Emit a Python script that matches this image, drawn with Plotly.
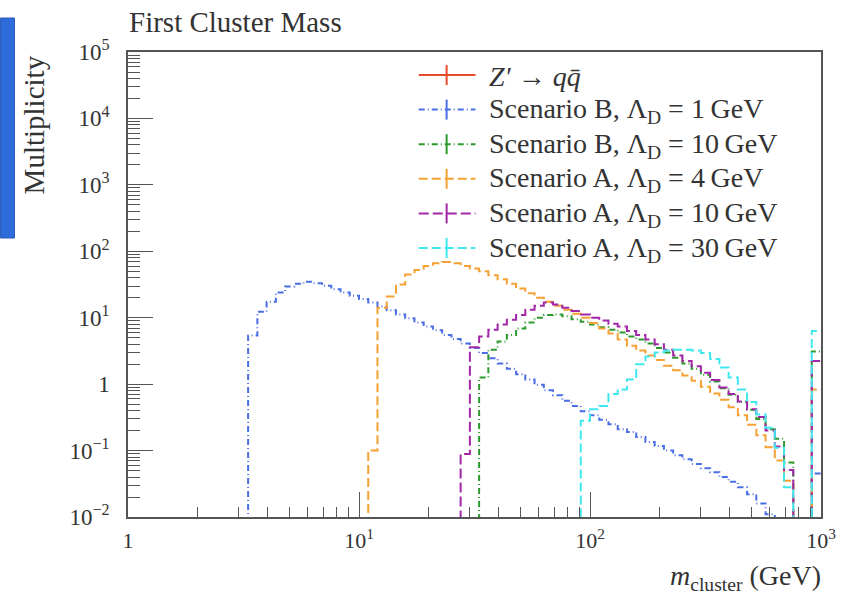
import numpy as np
import plotly.graph_objects as go

# ---------------- data ----------------
n_bins = 75                      # log-spaced bins from 1 to 1000 GeV
bin_edges = np.logspace(0, 3, n_bins + 1)

zprime = []   # Z' -> q qbar : no visible entries in the plotted range

scen_b_1gev = [0] * 13 + [
    5.4, 12.3, 17.4, 24.0, 29.5, 32.4, 34.7, 33.1, 30.2, 26.9,
    24.0, 21.4, 19.1, 17.0, 14.8, 12.9, 11.2, 9.8, 8.5, 7.4,
    6.5, 5.5, 4.8, 4.1, 3.5, 2.95, 2.45, 2.04, 1.70, 1.41,
    1.17, 0.98, 0.81, 0.68, 0.56, 0.47, 0.39, 0.34, 0.29, 0.25,
    0.21, 0.19, 0.16, 0.135, 0.117, 0.10, 0.085, 0.074, 0.063, 0.054,
    0.047, 0.040, 0.034, 0.028, 0.022, 0.016, 0.011] + [0] * 4 + [0.045]

scen_b_10gev = [0] * 38 + [
    1.26, 3.3, 4.4, 5.5, 6.9, 8.5, 10.0, 11.0, 11.2, 10.5,
    9.5, 8.7, 7.9, 7.2, 6.6, 6.0, 5.2, 4.7, 4.1, 3.5,
    3.0, 2.5, 2.04, 1.70, 1.38, 1.10, 0.87, 0.69, 0.54, 0.41,
    0.30, 0.21, 0.15, 0.066] + [0] * 2 + [3.1]

scen_a_4gev = [0] * 26 + [
    0.10, 14.1, 20.9, 31.6, 44.7, 52.5, 60.3, 66.1, 69.2, 66.1,
    60.3, 55.0, 50.1, 43.7, 38.0, 32.4, 27.5, 23.4, 20.0, 17.4,
    15.1, 13.2, 11.5, 10.0, 8.3, 6.9, 5.8, 4.7, 3.8, 3.2,
    2.7, 2.3, 1.9, 1.62, 1.35, 1.12, 0.91, 0.72, 0.58, 0.45,
    0.34, 0.245, 0.17, 0.112, 0.071, 0.035] + [0] * 2 + [0.83]

scen_a_10gev = [0] * 36 + [
    0.089, 3.6, 5.2, 6.6, 7.9, 9.3, 11.0, 13.2, 15.1, 17.0,
    15.8, 14.1, 12.6, 11.2, 10.0, 9.1, 8.1, 7.4, 6.3, 5.5,
    4.7, 4.0, 3.3, 2.7, 2.24, 1.86, 1.48, 1.15, 0.89, 0.71,
    0.55, 0.42, 0.32, 0.20, 0.115, 0.051] + [0] * 2 + [2.24]

scen_a_30gev = [0] * 49 + [
    0.28, 0.42, 0.47, 0.71, 0.83, 1.17, 2.0, 2.6, 3.0, 3.2,
    3.3, 3.3, 3.2, 2.95, 2.4, 1.78, 1.26, 0.83, 0.54, 0.35,
    0.22, 0.11, 0.028] + [0] * 2 + [6.3]

for s in (scen_b_1gev, scen_b_10gev, scen_a_4gev, scen_a_10gev, scen_a_30gev):
    assert len(s) == n_bins

legend_labels = [
    "<i>Z′</i> → <i>q</i><i>q̄</i>",
    "Scenario B, Λ<sub>D</sub> = 1\u2009GeV",
    "Scenario B, Λ<sub>D</sub> = 10\u2009GeV",
    "Scenario A, Λ<sub>D</sub> = 4\u2009GeV",
    "Scenario A, Λ<sub>D</sub> = 10\u2009GeV",
    "Scenario A, Λ<sub>D</sub> = 30\u2009GeV",
]
series_list = [zprime, scen_b_1gev, scen_b_10gev, scen_a_4gev, scen_a_10gev, scen_a_30gev]
colors = ["#ea4a2c", "#4a6ee6", "#2e9a2e", "#f5a133", "#a127a8", "#3ee8ee"]
dashes = ["solid", "6px,3px,1px,3px", "6px,3px,1px,3px", "9px,4px", "10px,4px", "9px,4px"]

y_tickvals = [1e-2, 1e-1, 1, 1e1, 1e2, 1e3, 1e4, 1e5]
y_ticktext = ["10<sup>−2</sup>", "10<sup>−1</sup>", "1", "10<sup>1</sup>",
              "10<sup>2</sup>", "10<sup>3</sup>", "10<sup>4</sup>", "10<sup>5</sup>"]
x_tickvals = [1, 10, 100, 1000]
x_ticktext = ["1", "10<sup>1</sup>", "10<sup>2</sup>", "10<sup>3</sup>"]

# ---------------- layout geometry ----------------
W, H = 848, 596
L, R, T, B = 128, 824, 52, 517


def px2x(px):
    return (px - L) / (R - L)


def py2y(py):
    return (B - py) / (B - T)


FONT = "Liberation Serif"
TXT = "#333333"
AX = "#555555"

fig = go.Figure()
floor = 1e-4
for name, vals, col, dsh in zip(legend_labels, series_list, colors, dashes):
    if len(vals) == 0:
        fig.add_trace(go.Scatter(x=[], y=[], name=name, mode="lines",
                                 line=dict(color=col, width=2), showlegend=False))
        continue
    yv = [v if v > 0 else floor for v in vals]
    yv = yv + [yv[-1]]
    fig.add_trace(go.Scatter(
        x=list(bin_edges), y=yv, name=name, mode="lines",
        line=dict(color=col, width=2, dash=dsh, shape="hv"),
        showlegend=False, hoverinfo="skip"))

minor_x = [m * 10 ** k for k in range(3) for m in range(2, 10)]
minor_y = [m * 10.0 ** k for k in range(-2, 5) for m in range(2, 10)]

fig.update_xaxes(
    type="log", range=[0, 3], showgrid=False, zeroline=False,
    showline=True, linecolor=AX, linewidth=1.5, mirror=True,
    ticks="inside", ticklen=25, tickwidth=1, tickcolor=AX,
    tickmode="array", tickvals=x_tickvals, ticktext=x_ticktext,
    tickfont=dict(family=FONT, size=22, color=TXT), ticklabelstandoff=3,
    minor=dict(ticks="inside", ticklen=10, tickwidth=1, tickcolor=AX,
               tickmode="array", tickvals=minor_x, showgrid=False),
)
fig.update_yaxes(
    type="log", range=[-2, 5], showgrid=False, zeroline=False,
    showline=True, linecolor=AX, linewidth=1.5, mirror=True,
    ticks="inside", ticklen=25, tickwidth=1, tickcolor=AX,
    tickmode="array", tickvals=y_tickvals, ticktext=y_ticktext,
    tickfont=dict(family=FONT, size=23, color=TXT), ticklabelstandoff=12,
    minor=dict(ticks="inside", ticklen=12, tickwidth=1, tickcolor=AX,
               tickmode="array", tickvals=minor_y, showgrid=False),
)

shapes = []
annotations = []

# decorative blue box at the far left
shapes.append(dict(type="rect", xref="paper", yref="paper",
                   x0=px2x(0), x1=px2x(14), y0=py2y(238), y1=py2y(18),
                   fillcolor="#2e6cdc", line=dict(color="#2a5bb8", width=1), layer="above"))

# hand-drawn legend (ROOT style)
leg_y0, leg_dy = 75, 34.6
for i, (lab, col, dsh) in enumerate(zip(legend_labels, colors, dashes)):
    yy = leg_y0 + i * leg_dy
    shapes.append(dict(type="line", xref="paper", yref="paper",
                       x0=px2x(420), x1=px2x(477), y0=py2y(yy), y1=py2y(yy),
                       line=dict(color=col, width=2, dash=dsh)))
    shapes.append(dict(type="line", xref="paper", yref="paper",
                       x0=px2x(448), x1=px2x(448), y0=py2y(yy - 10), y1=py2y(yy + 10),
                       line=dict(color=col, width=2)))
    annotations.append(dict(xref="paper", yref="paper", x=px2x(489), y=py2y(yy + 1),
                            xanchor="left", yanchor="middle", showarrow=False,
                            text=lab, font=dict(family=FONT, size=28, color=TXT)))

annotations.append(dict(xref="paper", yref="paper", x=px2x(127), y=py2y(22),
                        xanchor="left", yanchor="middle", showarrow=False,
                        text="First Cluster Mass", font=dict(family=FONT, size=29, color=TXT)))
annotations.append(dict(xref="paper", yref="paper", x=px2x(34), y=py2y(125),
                        xanchor="center", yanchor="middle", showarrow=False, textangle=-90,
                        text="Multiplicity", font=dict(family=FONT, size=29, color=TXT)))
annotations.append(dict(xref="paper", yref="paper", x=px2x(826), y=py2y(577),
                        xanchor="right", yanchor="middle", showarrow=False,
                        text="<i>m</i><sub>cluster</sub> (GeV)",
                        font=dict(family=FONT, size=28, color=TXT)))

fig.update_layout(
    width=W, height=H, autosize=False,
    margin=dict(l=L, r=W - R, t=T, b=H - B, pad=0),
    paper_bgcolor="white", plot_bgcolor="white",
    showlegend=False, shapes=shapes, annotations=annotations,
)

fig.write_html("out.html")
